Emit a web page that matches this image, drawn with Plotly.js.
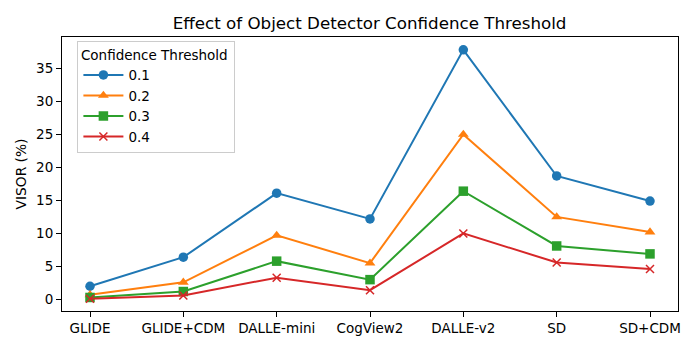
<!DOCTYPE html>
<html>
<head>
<meta charset="utf-8">
<script src="https://cdn.plot.ly/plotly-3.0.1.min.js"></script>
<style>
  html, body { margin: 0; padding: 0; background: #fff; }
  #plot { width: 700px; height: 350px; }
</style>
</head>
<body>
<div id="plot"></div>
<script>
// Categories (generators)
const models = ["GLIDE", "GLIDE+CDM", "DALLE-mini", "CogView2", "DALLE-v2", "SD", "SD+CDM"];

// VISOR (%) per confidence threshold
const visor01 = [2.0, 6.4, 16.1, 12.2, 37.8, 18.7, 14.9];
const visor02 = [0.7, 2.6, 9.7, 5.5, 25.0, 12.5, 10.2];
const visor03 = [0.3, 1.2, 5.8, 3.0, 16.4, 8.1, 6.9];
const visor04 = [0.1, 0.6, 3.3, 1.4, 10.0, 5.6, 4.6];

const thresholds = ["0.1", "0.2", "0.3", "0.4"];
const colors = ["#1f77b4", "#ff7f0e", "#2ca02c", "#d62728"];
const symbols = ["circle", "triangle-up", "square", "x-thin-open"];

const series = [visor01, visor02, visor03, visor04];
const idx = models.map((m, i) => i);

const traces = series.map((vals, k) => ({
    x: idx,
    y: vals,
    mode: "lines+markers",
    name: thresholds[k],
    line: {color: colors[k], width: 2},
    marker: {
        color: colors[k],
        symbol: symbols[k],
        size: symbols[k] === "x-thin-open" ? 8 : 9.5,
        line: {color: colors[k], width: symbols[k] === "x-thin-open" ? 1.5 : 0}
    }
}));

Plotly.newPlot("plot", traces, {
    width: 700,
    height: 350,
    font: {family: "DejaVu Sans", size: 13.5, color: "#000"},
    paper_bgcolor: "#fff",
    plot_bgcolor: "#fff",
    title: {
        text: "Effect of Object Detector Confidence Threshold",
        font: {size: 16.7},
        x: 0.528, xanchor: "center",
        y: 0.935, yanchor: "middle"
    },
    margin: {l: 62, r: 22, t: 37, b: 39},
    showlegend: true,
    xaxis: {
        range: [-0.3, 6.3],
        tickvals: idx,
        ticktext: models,
        showgrid: false,
        zeroline: false,
        showline: true, mirror: true,
        linecolor: "#000", linewidth: 1,
        ticks: "outside", ticklen: 5, tickcolor: "#000"
    },
    yaxis: {
        title: {text: "VISOR (%)", standoff: 6, font: {size: 13.8}},
        range: [-1.75, 39.75],
        tickvals: [0, 5, 10, 15, 20, 25, 30, 35],
        showgrid: false,
        zeroline: false,
        showline: true, mirror: true,
        linecolor: "#000", linewidth: 1,
        ticks: "outside", ticklen: 5, tickcolor: "#000"
    },
    legend: {
        x: 0.025, y: 0.985,
        xanchor: "left", yanchor: "top",
        bgcolor: "rgba(255,255,255,0.8)",
        bordercolor: "#cccccc", borderwidth: 1,
        title: {text: "Confidence Threshold\u00a0", side: "top center", font: {size: 13.5}},
        font: {size: 13.5},
        tracegroupgap: 0,
        itemwidth: 40
    }
}, {staticPlot: true});
</script>
</body>
</html>
